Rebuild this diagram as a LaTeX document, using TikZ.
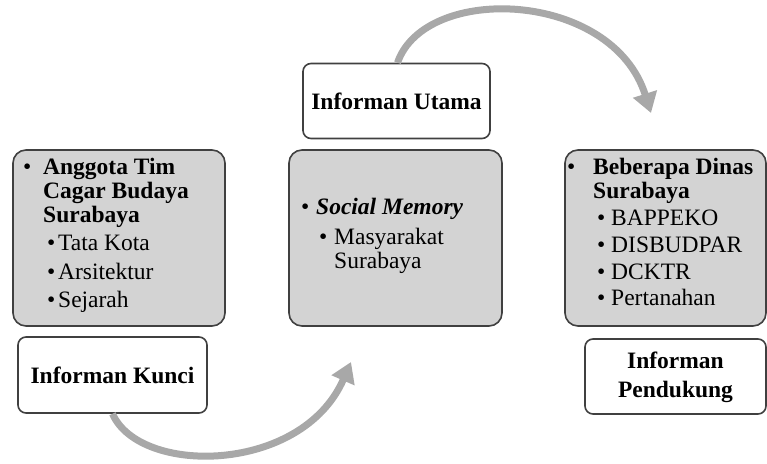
\documentclass[tikz,border=0pt]{standalone}
\usepackage{fontspec}
\setmainfont{Liberation Serif}
\usetikzlibrary{arrows.meta}
\definecolor{boxgray}{RGB}{211,211,211}
\definecolor{edgegray}{RGB}{64,64,64}
\definecolor{arrowgray}{RGB}{168,168,168}
\tikzset{
  x=1pt, y=-1pt,
  graybox/.style={draw=edgegray, fill=boxgray, line width=1.6pt, rounded corners=13pt, inner sep=0pt},
  whitebox/.style={draw=edgegray, fill=white, line width=1.6pt, rounded corners=8pt, inner sep=0pt},
  txt/.style={inner sep=0pt, anchor=mid west, font=\fontsize{23.5}{25}\selectfont},
  btxt/.style={txt, font=\fontsize{23.5}{25}\selectfont\bfseries},
  lbl/.style={inner sep=0pt, align=center, font=\fontsize{23.5}{29}\selectfont\bfseries},
  bigarrow/.style={draw=arrowgray, line width=7pt, -{Triangle[length=20pt,width=24pt]}}
}
\begin{document}
\begin{tikzpicture}
\useasboundingbox (0,0) rectangle (767,463);
% boxes
\node[graybox, minimum width=212pt, minimum height=176pt] (left) at (119,238) {};
\node[graybox, minimum width=213pt, minimum height=176pt] (mid) at (395.5,238) {};
\node[graybox, minimum width=201pt, minimum height=176pt] (right) at (665.5,238) {};
\node[whitebox, minimum width=189pt, minimum height=76pt] (kunci) at (112.5,375) {};
\node[whitebox, minimum width=187pt, minimum height=75pt] (utama) at (396.5,101) {};
\node[whitebox, minimum width=181pt, minimum height=75pt] (dukung) at (675.5,376.5) {};
% labels
\node[lbl] (kuncit) at (kunci.center) {Informan Kunci};
\node[lbl] (utamat) at (utama.center) {Informan Utama};
\node[lbl] (dukungt) at ([yshift=-1pt]dukung.center) {Informan\\Pendukung};
% left box text
\node[txt] (lb1) at (23,172) {•};
\node[btxt] (l1) at (43,172) {Anggota Tim};
\node[btxt] (l2) at (43,196) {Cagar Budaya};
\node[btxt] (l3) at (43,220) {Surabaya};
\node[txt] (lb2) at (47,248) {•};
\node[txt] (l4) at (58,248) {Tata Kota};
\node[txt] (lb3) at (47,277) {•};
\node[txt] (l5) at (58,277) {Arsitektur};
\node[txt] (lb4) at (47,305) {•};
\node[txt] (l6) at (58,305) {Sejarah};
% middle box text
\node[txt] (mb1) at (301,212) {•};
\node[btxt, font=\fontsize{23.5}{25}\selectfont\bfseries\itshape] (m1) at (316,212) {Social Memory};
\node[txt] (mb2) at (319,242) {•};
\node[txt] (m2) at (334,242) {Masyarakat};
\node[txt] (m3) at (334,266) {Surabaya};
% right box text
\node[txt] (rb1) at (567,172) {•};
\node[btxt] (r1) at (593,172) {Beberapa Dinas};
\node[btxt] (r2) at (593,196) {Surabaya};
\node[txt] (rb2) at (597,223) {•};
\node[txt] (r3) at (611,223) {BAPPEKO};
\node[txt] (rb3) at (597,250) {•};
\node[txt] (r4) at (611,250) {DISBUDPAR};
\node[txt] (rb4) at (597,277) {•};
\node[txt] (r5) at (611,277) {DCKTR};
\node[txt] (rb5) at (597,303) {•};
\node[txt] (r6) at (611,303) {Pertanahan};
% arrows
\coordinate (tipA) at (651,113);
\coordinate (tipB) at (351,362);
\draw[bigarrow] ([xshift=1pt]utama.north) .. controls (425,-17) and (612,-10) .. (tipA);
\draw[bigarrow] (kunci.south) .. controls (140,476) and (302,474) .. (tipB);
\end{tikzpicture}
\end{document}
